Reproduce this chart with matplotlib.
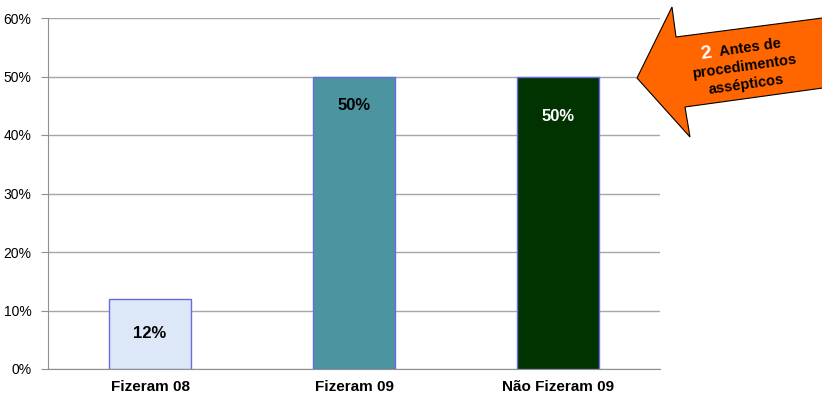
import matplotlib
matplotlib.use("Agg")
import matplotlib.pyplot as plt
from matplotlib.patches import Polygon
import numpy as np

plt.rcParams['font.family'] = ['Liberation Sans', 'DejaVu Sans']

categories = ["Fizeram 08", "Fizeram 09", "Não Fizeram 09"]
values = [12, 50, 50]
bar_colors = ["#dce8f7", "#4a959f", "#003300"]
label_colors = ["black", "black", "white"]
label_drop = [0, 5, 6.8]  # distance of the value label below the bar top
yticks = [0, 10, 20, 30, 40, 50, 60]
ytick_labels = [f"{t}%" for t in yticks]
callout_number = "2"
callout_lines = ["Antes de", "procedimentos", "assépticos"]

W, H = 822, 394
fig = plt.figure(figsize=(W / 100, H / 100), dpi=100)
ax = fig.add_axes([48 / W, 1 - 369 / H, (660 - 48) / W, (369 - 18) / H])

x = np.arange(len(categories))
bars = ax.bar(x, values, width=0.4, color=bar_colors, edgecolor="#6a6ae0",
              linewidth=1.0, zorder=3)

ax.set_xlim(-0.5, len(categories) - 0.5)
ax.set_ylim(0, 60)
ax.set_yticks(yticks)
ax.set_yticklabels(ytick_labels, fontsize=10)
ax.set_xticks(x)
ax.set_xticklabels(categories, fontsize=11, fontweight="bold")
ax.tick_params(axis="x", length=0, pad=8)
ax.tick_params(axis="y", length=5, color="#909090", pad=7)
ax.yaxis.grid(True, color="#a6a6a6", linewidth=1.0, zorder=0)
for side in ["top", "right"]:
    ax.spines[side].set_visible(False)
for side in ["left", "bottom"]:
    ax.spines[side].set_color("#909090")

for xi, v, c, drop in zip(x, values, label_colors, label_drop):
    y = v / 2 if v < 20 else v - drop
    ax.text(xi, y, f"{v}%", ha="center", va="center", fontsize=12,
            fontweight="bold", color=c, zorder=4)

# Callout arrow pointing left (pixel coordinates, top-left origin)
pts_px = [(637, 78), (672, 7), (676, 37), (830, 17), (830, 87),
          (685, 107), (690, 137)]
pts = [(px / W, 1 - py / H) for px, py in pts_px]
arrow = Polygon(pts, closed=True, transform=fig.transFigure,
                facecolor="#ff6600", edgecolor="black", linewidth=0.8,
                zorder=5, clip_on=False)
fig.patches.append(arrow)

rot = 8
txt_kw = dict(ha="center", va="center", rotation=rot, fontweight="bold",
              zorder=6)
fig.text(706 / W, 1 - 54 / H, callout_number, color="white", fontsize=14,
         **txt_kw)
fig.text(750 / W, 1 - 48 / H, callout_lines[0], color="black", fontsize=10.5,
         **txt_kw)
fig.text(744 / W, 1 - 67 / H, callout_lines[1], color="black", fontsize=10.5,
         **txt_kw)
fig.text(746 / W, 1 - 85 / H, callout_lines[2], color="black", fontsize=10.5,
         **txt_kw)

fig.savefig("out.png", dpi=100)
